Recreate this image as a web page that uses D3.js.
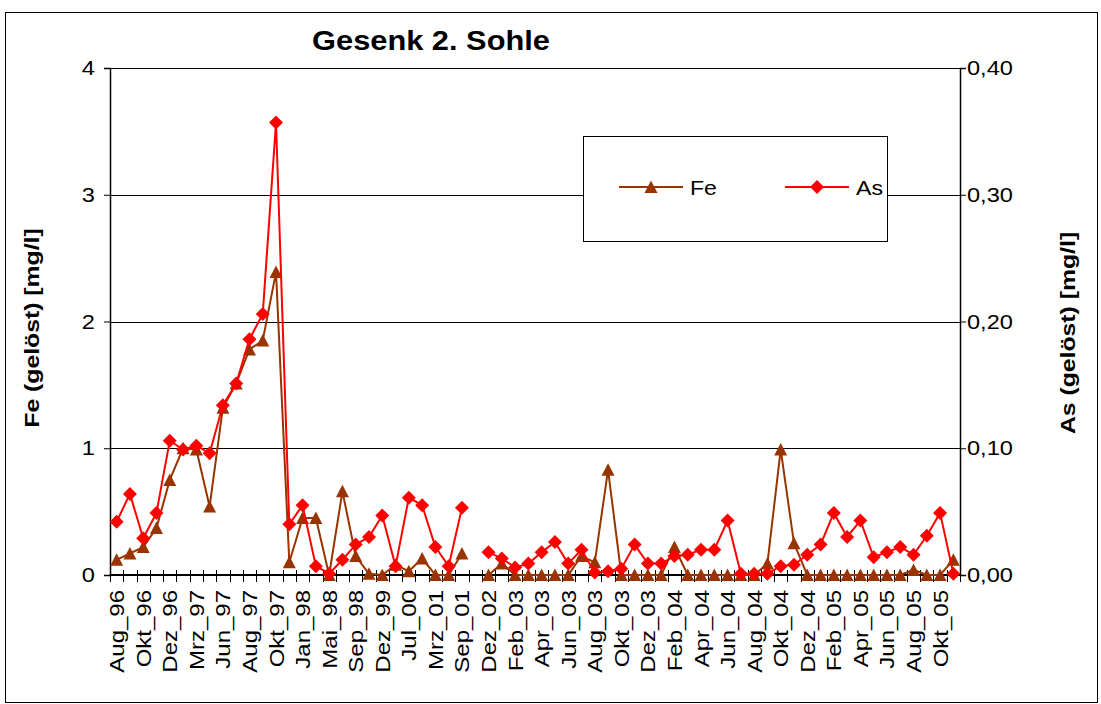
<!DOCTYPE html>
<html>
<head>
<meta charset="utf-8">
<script src="https://cdn.jsdelivr.net/npm/d3@7"></script>
<style>
    body { margin: 0; background: #fff; }
    text { font-family: "Liberation Sans", Arial, sans-serif; fill: #000; }
</style>
</head>
<body>
<div id="chart"></div>
<script>

// months, only every second one gets a label on the axis
var months = ['Aug_96','Sep_96','Okt_96','Nov_96','Dez_96','Jan_97','Mrz_97','Apr_97','Jun_97','Jul_97',
    'Aug_97','Sep_97','Okt_97','Nov_97','Jan_98','Mrz_98','Mai_98','Jul_98','Sep_98','Nov_98',
    'Dez_99','Apr_00','Jul_00','Okt_00','Mrz_01','Jun_01','Sep_01','Mrz_02','Dez_02','Jan_03',
    'Feb_03','Mrz_03','Apr_03','Mai_03','Jun_03','Jul_03','Aug_03','Sep_03','Okt_03','Nov_03',
    'Dez_03','Jan_04','Feb_04','Mrz_04','Apr_04','Mai_04','Jun_04','Jul_04','Aug_04','Sep_04',
    'Okt_04','Nov_04','Dez_04','Jan_05','Feb_05','Mrz_05','Apr_05','Mai_05','Jun_05','Jul_05',
    'Aug_05','Sep_05','Okt_05','Nov_05'];

var fe = [0.12,0.17,0.22,0.37,0.75,1.0,0.99,0.54,1.32,1.51,
    1.78,1.85,2.39,0.10,0.45,0.45,0,0.66,0.15,0.01,
    0,0.08,0.03,0.13,0,0,0.17,null,0,0.09,
    0,0,0,0,0,0.15,0.10,0.83,0,0,
    0,0,0.22,0,0,0,0,0,0,0.09,
    0.99,0.25,0,0,0,0,0,0,0,0,
    0.04,0,0,0.12];

var as = [0.042,0.064,0.029,0.049,0.106,0.099,0.102,0.096,0.134,0.151,
    0.186,0.206,0.357,0.040,0.055,0.007,0.001,0.012,0.024,0.030,
    0.047,0.007,0.061,0.055,0.022,0.007,0.053,null,0.018,0.013,
    0.006,0.009,0.018,0.026,0.009,0.020,0.002,0.003,0.005,0.024,
    0.009,0.009,0.015,0.016,0.020,0.020,0.043,0.001,0.001,0.001,
    0.007,0.008,0.016,0.024,0.049,0.030,0.043,0.014,0.018,0.022,
    0.016,0.031,0.049,0.001];

var feTicks = [0, 1, 2, 3, 4];
var asTicks = [0, 0.1, 0.2, 0.3, 0.4];

const width = 1101;
const height = 704;
const stretch = 1.18; // the glyphs in the original are drawn a bit wider than Arial

let margin = {
    top:    68,
    right:  141,
    bottom: 129,
    left:   110
};

let plotWidth = width - margin.left - margin.right;
let plotHeight = height - margin.top - margin.bottom;

var svg = d3.select("#chart")
    .append("svg")
    .attr("width", width)
    .attr("height", height);

// outer frame
svg.append("rect")
    .attr("x", 5.5).attr("y", 12.5)
    .attr("width", 1092).attr("height", 690)
    .attr("fill", "none")
    .attr("stroke", "#000")
    .attr("stroke-width", 1);

var x = d3.scaleBand()
    .domain(months)
    .range([0, plotWidth])
    .padding(0);

var yFe = d3.scaleLinear().domain([0, 4]).range([plotHeight, 0]);
var yAs = d3.scaleLinear().domain([0, 0.4]).range([plotHeight, 0]);

var plot = svg.append("g")
    .attr("transform", "translate(" + margin.left + "," + margin.top + ")");

// grid lines
plot.append("g")
    .selectAll("line")
    .data(feTicks.slice(1))
    .enter().append("line")
    .attr("x1", 0).attr("x2", plotWidth)
    .attr("y1", d => Math.round(yFe(d)) + 0.5)
    .attr("y2", d => Math.round(yFe(d)) + 0.5)
    .attr("stroke", "#000")
    .attr("stroke-width", 1);

// left axis
var yAxisL = plot.append("g")
    .call(d3.axisLeft(yFe).tickValues(feTicks).tickSize(6).tickFormat(""));
yAxisL.select(".domain").attr("stroke-width", 1.5);

yAxisL.selectAll("text.lab")
    .data(feTicks)
    .enter().append("text")
    .attr("class", "lab")
    .attr("transform", d => "translate(-15," + (yFe(d) + 7) + ") scale(" + stretch + ",1)")
    .attr("text-anchor", "end")
    .style("font-size", "20px")
    .text(d3.format("d"));

// right axis
var yAxisR = plot.append("g")
    .attr("transform", "translate(" + plotWidth + ",0)")
    .call(d3.axisRight(yAs).tickValues(asTicks).tickSize(6).tickFormat(""));
yAxisR.select(".domain").attr("stroke-width", 1.5);

yAxisR.selectAll("text.lab")
    .data(asTicks)
    .enter().append("text")
    .attr("class", "lab")
    .attr("transform", d => "translate(7," + (yAs(d) + 7) + ") scale(" + stretch + ",1)")
    .style("font-size", "20px")
    .text(d => d3.format(".2f")(d).replace(".", ","));

// x axis: ticks between the categories, crossing the axis line
var xAxis = plot.append("g")
    .attr("transform", "translate(0," + plotHeight + ")");

xAxis.append("line")
    .attr("x1", 0).attr("x2", plotWidth)
    .attr("y1", 0).attr("y2", 0)
    .attr("stroke", "#000")
    .attr("stroke-width", 2);

xAxis.selectAll("line.tick")
    .data(months.concat(["end"]))
    .enter().append("line")
    .attr("class", "tick")
    .attr("x1", (d, i) => Math.round(i * x.bandwidth()) + 0.5)
    .attr("x2", (d, i) => Math.round(i * x.bandwidth()) + 0.5)
    .attr("y1", -5).attr("y2", 7)
    .attr("stroke", "#000");

xAxis.selectAll("text.xlab")
    .data(months.filter((d, i) => i % 2 === 0))
    .enter().append("text")
    .attr("class", "xlab")
    .attr("transform", d => "translate(" + (x(d) + x.bandwidth() / 2 + 7.5) + ",15) rotate(-90) scale(1.2,1)")
    .attr("text-anchor", "end")
    .style("font-size", "20px")
    .text(d => d);

// series
var feLine = d3.line()
    .defined(d => d != null)
    .x((d, i) => x(months[i]) + x.bandwidth() / 2)
    .y(d => yFe(d));

var asLine = d3.line()
    .defined(d => d != null)
    .x((d, i) => x(months[i]) + x.bandwidth() / 2)
    .y(d => yAs(d));

var triangle = "M0,-6.5 L6.5,6 L-6.5,6 Z";
var diamond = "M0,-7 L7,0 L0,7 L-7,0 Z";

plot.append("path")
    .datum(fe)
    .attr("d", feLine)
    .attr("fill", "none")
    .attr("stroke", "#993300")
    .attr("stroke-width", 2);

plot.append("g")
    .selectAll("path")
    .data(fe.map((v, i) => ({ v: v, i: i })).filter(d => d.v != null))
    .enter().append("path")
    .attr("d", triangle)
    .attr("transform", d => "translate(" + (x(months[d.i]) + x.bandwidth() / 2) + "," + yFe(d.v) + ")")
    .attr("fill", "#993300");

plot.append("path")
    .datum(as)
    .attr("d", asLine)
    .attr("fill", "none")
    .attr("stroke", "#ff0000")
    .attr("stroke-width", 2);

plot.append("g")
    .selectAll("path")
    .data(as.map((v, i) => ({ v: v, i: i })).filter(d => d.v != null))
    .enter().append("path")
    .attr("d", diamond)
    .attr("transform", d => "translate(" + (x(months[d.i]) + x.bandwidth() / 2) + "," + yAs(d.v) + ")")
    .attr("fill", "#ff0000");

// title and axis labels
svg.append("text")
    .attr("transform", "translate(431,50) scale(1.1,1)")
    .attr("text-anchor", "middle")
    .style("font-size", "28px")
    .style("font-weight", "bold")
    .text("Gesenk 2. Sohle");

svg.append("text")
    .attr("transform", "translate(39,328) rotate(-90) scale(" + stretch + ",1)")
    .attr("text-anchor", "middle")
    .style("font-size", "21px")
    .style("font-weight", "bold")
    .text("Fe (gelöst) [mg/l]");

svg.append("text")
    .attr("transform", "translate(1075,333) rotate(-90) scale(" + stretch + ",1)")
    .attr("text-anchor", "middle")
    .style("font-size", "21px")
    .style("font-weight", "bold")
    .text("As (gelöst) [mg/l]");

// legend
var legend = svg.append("g").attr("transform", "translate(583,136)");

legend.append("rect")
    .attr("x", 0.5).attr("y", 0.5)
    .attr("width", 304).attr("height", 105)
    .attr("fill", "#fff")
    .attr("stroke", "#000");

var legendItems = [
    { name: "Fe", color: "#993300", shape: triangle, x: 36 },
    { name: "As", color: "#ff0000", shape: diamond, x: 202 }
];

legendItems.forEach(function(item) {
    legend.append("line")
        .attr("x1", item.x).attr("x2", item.x + 64)
        .attr("y1", 51).attr("y2", 51)
        .attr("stroke", item.color)
        .attr("stroke-width", 2);
    legend.append("path")
        .attr("d", item.shape)
        .attr("transform", "translate(" + (item.x + 32) + ",51)")
        .attr("fill", item.color);
    legend.append("text")
        .attr("transform", "translate(" + (item.x + 71) + ",59) scale(1.1,1)")
        .style("font-size", "21px")
        .text(item.name);
});

</script>
</body>
</html>
